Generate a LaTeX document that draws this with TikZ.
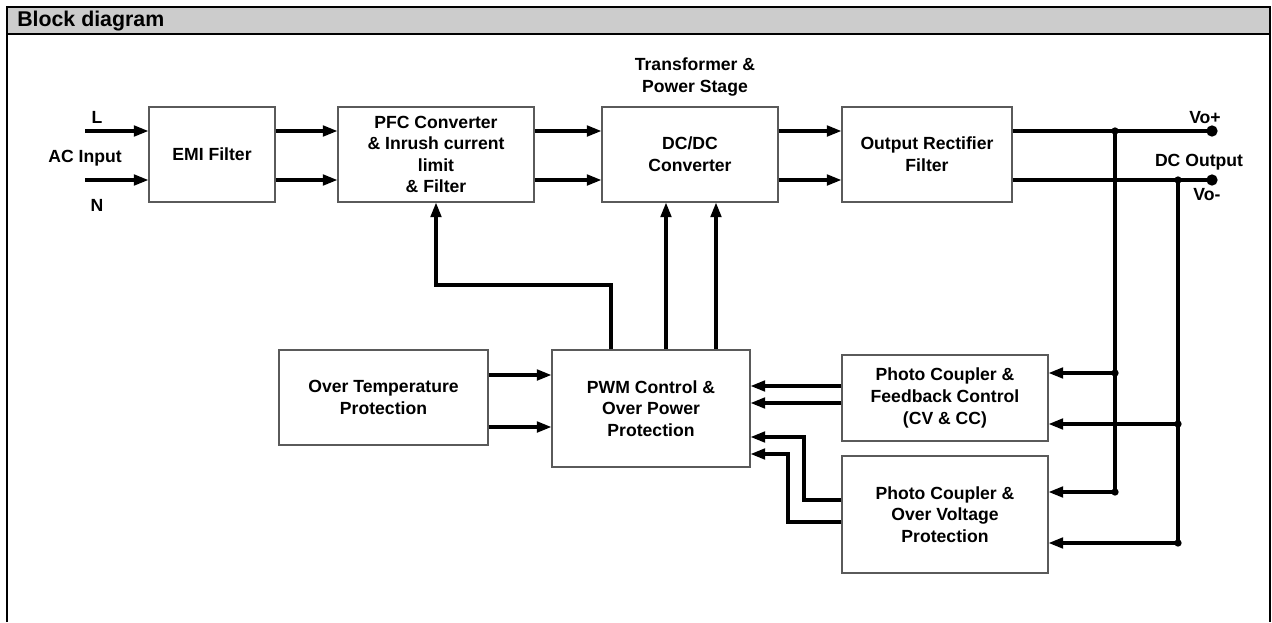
\documentclass[tikz,border=0pt]{standalone}
\usepackage{fontspec}
\setmainfont{Liberation Sans}
\usetikzlibrary{arrows.meta,calc}
\definecolor{hdr}{RGB}{204,204,204}
\definecolor{boxline}{RGB}{90,90,90}
\begin{document}
\begin{tikzpicture}[x=0.75pt,y=-0.75pt,
  txt/.style={font=\fontsize{13.2}{16.2}\selectfont\bfseries, align=center},
  blk/.style={txt, draw=boxline, line width=0.8pt, fill=white, inner sep=0pt},
  lbl/.style={txt, inner sep=0pt},
  arr/.style={line width=2.3pt, -{Triangle[length=11pt,width=8pt]}},
  wire/.style={line width=2.3pt},
  jdot/.style={circle, fill=black, inner sep=0pt, minimum size=5.5pt},
  tdot/.style={circle, fill=black, inner sep=0pt, minimum size=8.5pt}]
\useasboundingbox (0,0) rectangle (1272,622);
% frame and header
\fill[hdr] (7,7) rectangle (1270,34);
\draw[line width=1.6pt] (7,34) -- (1270,34);
\draw[line width=1.6pt] (7,622) -- (7,7) -- (1270,7) -- (1270,622);
\node[anchor=west, font=\fontsize{16}{19}\selectfont\bfseries, inner sep=0pt] (title) at (17,21) {Block diagram};

% blocks
\node[blk, minimum width=94.5pt, minimum height=71.25pt] (emi) at (212,154.5) {EMI Filter};
\node[blk, minimum width=147pt, minimum height=71.25pt] (pfc) at (436,154.5) {PFC Converter\\\& Inrush current\\limit\\\& Filter};
\node[blk, minimum width=132pt, minimum height=71.25pt] (dcdc) at (690,154.5) {DC/DC\\Converter};
\node[blk, minimum width=127.5pt, minimum height=71.25pt] (orf) at (927,154.5) {Output Rectifier\\Filter};
\node[blk, minimum width=156.75pt, minimum height=71.25pt] (ot) at (383.5,397.5) {Over Temperature\\Protection};
\node[blk, minimum width=148.5pt, minimum height=87.75pt] (pwm) at (651,408.5) {PWM Control \&\\Over Power\\Protection};
\node[blk, minimum width=154.5pt, minimum height=64.5pt] (pcfb) at (945,398) {Photo Coupler \&\\Feedback Control\\(CV \& CC)};
\node[blk, minimum width=154.5pt, minimum height=87.75pt] (ovp) at (945,514.5) {Photo Coupler \&\\Over Voltage\\Protection};

% labels
\node[lbl] (lL) at (97,117) {L};
\node[lbl] (lAC) at (85,158) {AC Input};
\node[lbl] (lN) at (97,205) {N};
\node[lbl] (lTr) at (695,77) {Transformer \&\\Power Stage};
\node[lbl] (lVp) at (1205,118) {Vo+};
\node[lbl] (lDC) at (1199,162) {DC Output};
\node[lbl] (lVm) at (1207,195) {Vo-};

% reference coordinates
\coordinate (inL) at (85,131);
\coordinate (inN) at (85,180);
\node[tdot] (vop) at (1212,131) {};
\node[tdot] (vom) at (1212,180) {};
\node[jdot] (j1) at (1115,131) {};
\node[jdot] (j2) at (1178,180) {};
\node[jdot] (j3) at (1115,373) {};
\node[jdot] (j4) at (1178,424) {};
\node[jdot] (j5) at (1115,492) {};
\node[jdot] (j6) at (1178,543) {};

% power path
\draw[arr] (inL) -- (emi.west |- inL);
\draw[arr] (inN) -- (emi.west |- inN);
\draw[arr] (emi.east |- inL) -- (pfc.west |- inL);
\draw[arr] (emi.east |- inN) -- (pfc.west |- inN);
\draw[arr] (pfc.east |- inL) -- (dcdc.west |- inL);
\draw[arr] (pfc.east |- inN) -- (dcdc.west |- inN);
\draw[arr] (dcdc.east |- inL) -- (orf.west |- inL);
\draw[arr] (dcdc.east |- inN) -- (orf.west |- inN);
\draw[wire] (orf.east |- vop) -- (vop.center);
\draw[wire] (orf.east |- vom) -- (vom.center);

% output sensing buses
\draw[wire] (j1.center) -- (j5.center);
\draw[wire] (j2.center) -- (j6.center);
\draw[arr] (j3.center) -- (pcfb.east |- j3);
\draw[arr] (j4.center) -- (pcfb.east |- j4);
\draw[arr] (j5.center) -- (ovp.east |- j5);
\draw[arr] (j6.center) -- (ovp.east |- j6);

% feedback to PWM
\coordinate (f1) at (842,386);
\coordinate (f2) at (842,403);
\draw[arr] (pcfb.west |- f1) -- (pwm.east |- f1);
\draw[arr] (pcfb.west |- f2) -- (pwm.east |- f2);
\coordinate (o1) at (804,500);
\coordinate (o1t) at (804,437);
\coordinate (o2) at (788,522);
\coordinate (o2t) at (788,454);
\draw[arr] (ovp.west |- o1) -- (o1) -- (o1t) -- (pwm.east |- o1t);
\draw[arr] (ovp.west |- o2) -- (o2) -- (o2t) -- (pwm.east |- o2t);

% over temperature to PWM
\coordinate (t1) at (488,375);
\coordinate (t2) at (488,427);
\draw[arr] (ot.east |- t1) -- (pwm.west |- t1);
\draw[arr] (ot.east |- t2) -- (pwm.west |- t2);

% PWM to power stage
\coordinate (p1) at (611,285);
\coordinate (p1b) at (436,285);
\draw[arr] (pwm.north -| p1) -- (p1) -- (p1b) -- (pfc.south -| p1b);
\coordinate (p2) at (666,300);
\coordinate (p3) at (716,300);
\draw[arr] (pwm.north -| p2) -- (dcdc.south -| p2);
\draw[arr] (pwm.north -| p3) -- (dcdc.south -| p3);
\end{tikzpicture}
\end{document}
